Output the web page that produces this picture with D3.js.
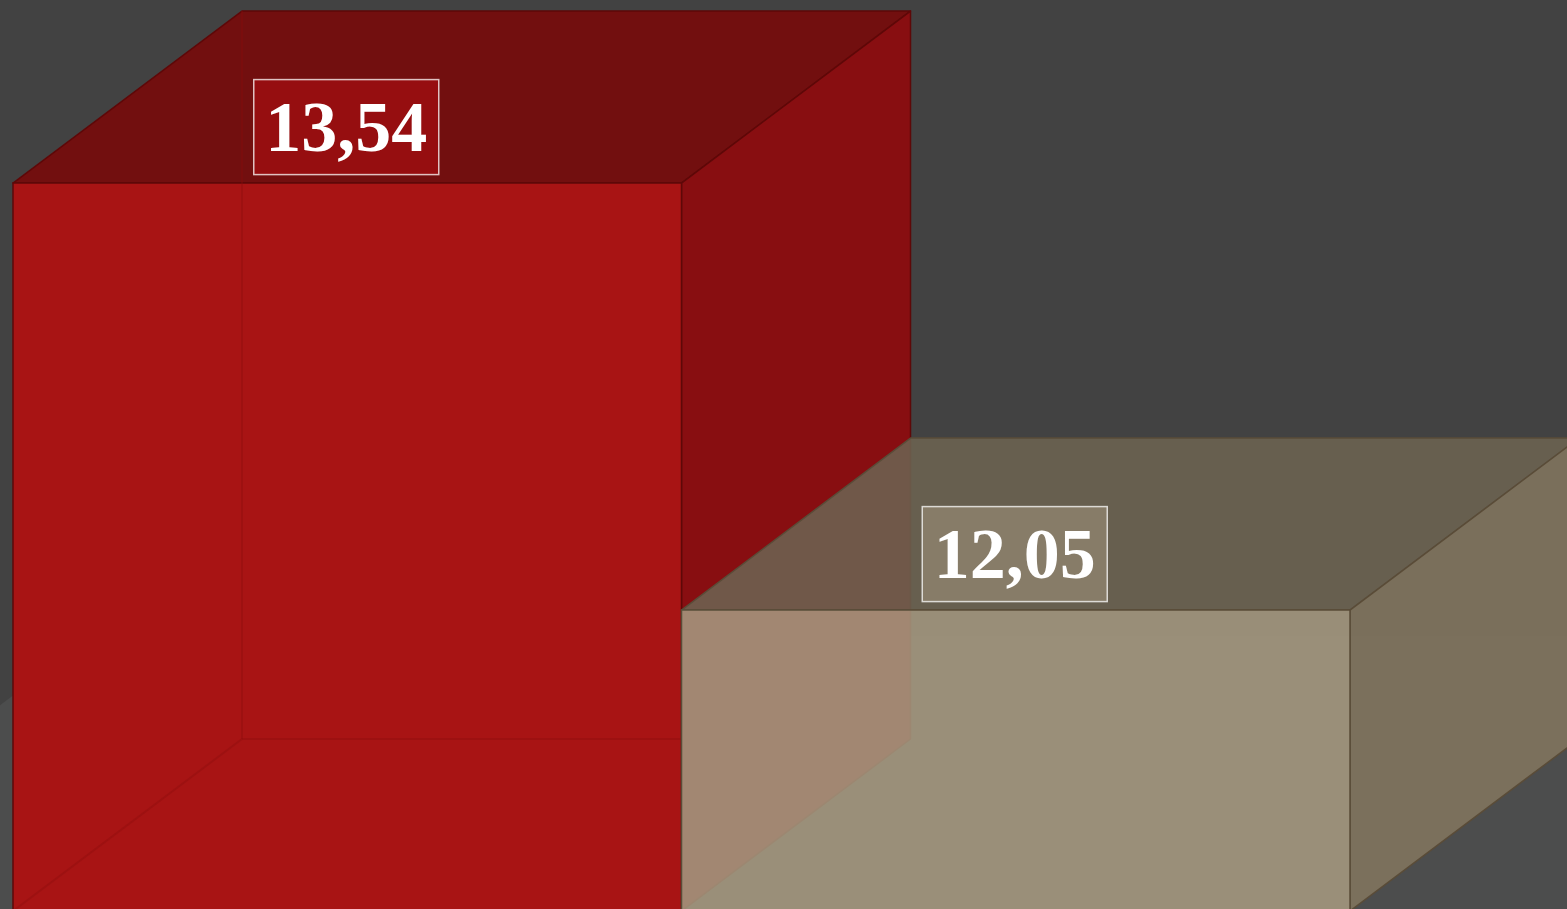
<!DOCTYPE html>
<html>
<head>
<meta charset="utf-8">
<script src="https://cdn.jsdelivr.net/npm/d3@7/dist/d3.min.js"></script>
<style>
  html, body { margin: 0; padding: 0; background: #424242; overflow: hidden; }
  svg { display: block; }
</style>
</head>
<body>
<svg id="chart" width="1567" height="909"></svg>
<script>
// ---- data ----
const categories = ["A", "B"];
const values = [13.54, 12.05];
const valueLabels = ["13,54", "12,05"];
const yDomain = [11, 14];

// ---- colours ----
const faceColors = [
  { front: "#a81414", top: "#720f0f", right: "#880e11", edge: "#5e0808", label: "#960e10", opacity: 1 },
  { front: "#a5997f", top: "#6c6351", right: "#82755e", edge: "#5a4c38", label: "#877c68", opacity: 0.88 }
];

const W = 1567, H = 909;
const svg = d3.select("#chart");
svg.append("rect").attr("width", W).attr("height", H).attr("fill", "#424242");

const x = d3.scaleBand().domain(categories).range([13, 1350]).paddingInner(0).paddingOuter(0);
const y = d3.scaleLinear().domain(yDomain).range([911, 911 - 3 * 286.58]);
const DX = 229, DY = -172;   // depth offset

// floor plane (in bar coordinates: x along front, z depth fraction)
const base = y(yDomain[0]);
function P(px, z, py) { return [px + DX * z, py + DY * z]; }
const floorX0 = -274, floorX1 = 3000;
const floorPts = [P(floorX0, -1, base), P(floorX0, 1.6, base), P(floorX1, 1.6, base), P(floorX1, -1, base)];
svg.append("polygon").attr("points", floorPts.map(p => p.join(",")).join(" ")).attr("fill", "#4c4d4d");

const g = svg.append("g");

categories.forEach((c, i) => {
  const col = faceColors[i];
  const x0 = x(c), x1 = x(c) + x.bandwidth();
  const yt = y(values[i]), yb = base;
  const grp = g.append("g");
  const poly = pts => pts.map(p => p.join(",")).join(" ");
  // top face
  grp.append("polygon")
    .attr("points", poly([[x0, yt], [x0 + DX, yt + DY], [x1 + DX, yt + DY], [x1, yt]]))
    .attr("fill", col.top).attr("fill-opacity", col.opacity)
    .attr("stroke", col.edge).attr("stroke-width", 1.5).attr("stroke-linejoin", "round");
  // right face
  grp.append("polygon")
    .attr("points", poly([[x1, yt], [x1 + DX, yt + DY], [x1 + DX, yb + DY], [x1, yb]]))
    .attr("fill", col.right).attr("fill-opacity", col.opacity)
    .attr("stroke", col.edge).attr("stroke-width", 1.5).attr("stroke-linejoin", "round");
  // front face
  grp.append("polygon")
    .attr("points", poly([[x0, yt], [x1, yt], [x1, yb], [x0, yb]]))
    .attr("fill", col.front).attr("fill-opacity", col.opacity)
    .attr("stroke", col.edge).attr("stroke-width", 1.5);
  // hidden edges seen through the translucent faces
  if (i === 0) {
    const hidden = [
      [[x0 + DX, yt + DY], [x0 + DX, yb + DY]],
      [[x0 + DX, yb + DY], [x1, yb + DY]],
      [[x0 + DX, yb + DY], [x0, yb]]
    ];
    hidden.forEach(seg => {
      grp.append("line")
        .attr("x1", seg[0][0]).attr("y1", seg[0][1])
        .attr("x2", seg[1][0]).attr("y2", seg[1][1])
        .attr("stroke", "#8a0b0b").attr("stroke-opacity", 0.35).attr("stroke-width", 2);
    });
  }
});

// value labels
categories.forEach((c, i) => {
  const col = faceColors[i];
  const cx = x(c) + x.bandwidth() / 2 - 1;
  const cy = y(values[i]) - 56;
  const lw = 185, lh = 95;
  g.append("rect")
    .attr("x", cx - lw / 2).attr("y", cy - lh / 2)
    .attr("width", lw).attr("height", lh)
    .attr("fill", col.label)
    .attr("stroke", "#ffffff").attr("stroke-opacity", 0.75).attr("stroke-width", 1.5);
  g.append("text")
    .attr("x", cx).attr("y", cy + 24)
    .attr("text-anchor", "middle")
    .attr("font-family", "'Liberation Serif', 'Times New Roman', serif")
    .attr("font-weight", "bold")
    .attr("font-size", 72)
    .attr("fill", "#ffffff")
    .text(valueLabels[i]);
});
</script>
</body>
</html>
